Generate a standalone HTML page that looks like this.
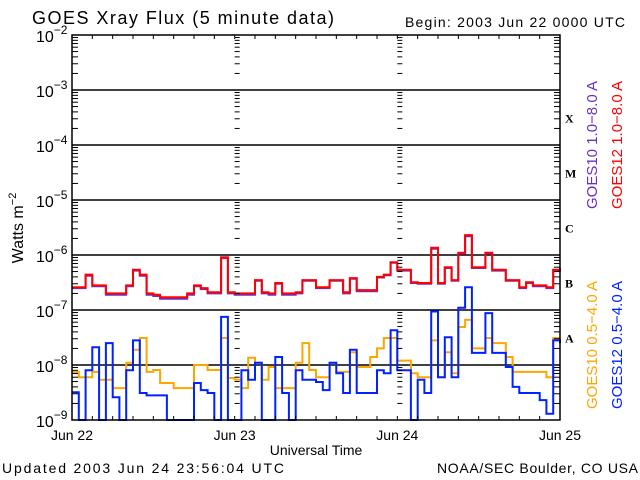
<!DOCTYPE html>
<html><head><meta charset="utf-8">
<style>
html,body{margin:0;padding:0;background:#fff;}
svg{display:block;font-family:"Liberation Sans",sans-serif;}
</style></head>
<body>
<svg id="chart" width="640" height="480" viewBox="0 0 640 480" xmlns="http://www.w3.org/2000/svg">
  <rect x="0" y="0" width="640" height="480" fill="#fff"/>
  <text x="32" y="24" font-size="18" fill="#000" textLength="302" lengthAdjust="spacing">GOES Xray Flux (5 minute data)</text>
  <text x="405" y="27" font-size="14" fill="#000" textLength="220" lengthAdjust="spacing">Begin:  2003 Jun 22 0000 UTC</text>
  <text transform="translate(23,228) rotate(-90)" text-anchor="middle" font-size="16" fill="#000">Watts m<tspan dy="-7" font-size="11">−2</tspan></text>
  <text x="316" y="455" text-anchor="middle" font-size="14" fill="#000">Universal Time</text>
  <text x="2" y="473" font-size="14" fill="#000" textLength="282" lengthAdjust="spacing">Updated 2003 Jun 24 23:56:04 UTC</text>
  <text x="437" y="473" font-size="14" fill="#000" textLength="201" lengthAdjust="spacing">NOAA/SEC Boulder, CO USA</text>
  <g id="grid"></g>
  <g id="series"></g>
  <g id="axes"></g>
  <g id="labels"></g>
  <text transform="translate(597,145) rotate(-90)" text-anchor="middle" font-size="15" fill="#6a2fc8">GOES10 1.0−8.0 A</text>
  <text transform="translate(622,145) rotate(-90)" text-anchor="middle" font-size="15" fill="#ff0000">GOES12 1.0−8.0 A</text>
  <text transform="translate(597,345) rotate(-90)" text-anchor="middle" font-size="15" fill="#ffa500">GOES10 0.5−4.0 A</text>
  <text transform="translate(622,345) rotate(-90)" text-anchor="middle" font-size="15" fill="#0022ff">GOES12 0.5−4.0 A</text>
</svg>
<script>
// hourly samples, 22 Jun 00 UT to 25 Jun 00 UT
const hours = Array.from({length:73},(_,i)=>i);
const goes12Long = [2.6,2.6,4.4,2.8,2.8,2.0,2.0,2.0,2.8,5.4,4.4,2.0,1.9,1.7,1.7,1.7,1.7,2.0,2.8,2.5,2.1,2.1,9.1,2.1,
  2.0,2.0,2.0,3.5,2.1,2.0,3.1,2.0,2.0,2.1,3.5,3.5,2.6,2.6,3.5,3.5,2.1,3.8,2.3,2.3,2.3,4.0,4.4,7.4,
  5.4,5.4,3.2,3.1,3.1,13.5,3.1,6.0,3.5,11,23,6.0,6.0,11,5.4,5.4,3.5,3.5,2.6,3.2,2.8,2.8,2.6,5.4,5.8]; // x1e-7
const goes10Long = [2.5,2.5,4.2,2.7,2.7,1.9,1.9,1.9,2.7,5.2,4.2,1.9,1.8,1.6,1.6,1.6,1.6,1.9,2.7,2.4,2.0,2.0,8.8,2.0,
  1.9,1.9,1.9,3.4,2.0,1.9,3.0,1.9,1.9,2.0,3.4,3.4,2.5,2.5,3.4,3.4,2.0,3.7,2.2,2.2,2.2,3.9,4.3,7.2,
  5.2,5.2,3.1,3.0,3.0,13,3.0,5.8,3.4,10.6,22,5.8,5.8,10.6,5.2,5.2,3.4,3.4,2.5,3.1,2.7,2.7,2.5,5.2,5.6]; // x1e-7
const goes10Short = [7.5,6.0,6.0,7.5,5.4,5.4,3.8,3.8,11,19,31,7.5,8.1,4.7,4.7,3.8,3.8,3.8,10,10,8.1,8.1,31,5.8,
  5.4,3.8,13.5,11,5.4,9.2,3.8,3.8,3.8,11,25,8.1,6.0,6.0,11,7.5,7.5,17,9.2,9.2,14,20,31,31,
  12,12,7.1,6.0,6.0,28,6.0,17,7.1,49,66,20,20,31,25,25,14,7.5,7.5,7.5,7.5,7.5,6.0,31,31]; // x1e-9
const goes12Short = [3.2,1,8,21,1,25,2.6,1,8,28,3.1,2.8,2.8,2.8,1,1,1,1,4.7,3.5,3.1,1,75,1,
  1,8,5.4,11,1,1,14,3.1,1,8,5.4,5.4,4.9,3.5,11,7.1,3.1,19,3.1,3.1,3.1,8,7.1,43,
  8,8,1,5.4,3.1,94,6,32,6,110,260,16.6,16.6,88,16.6,16.6,9.2,4,3.1,3.1,3.1,2.3,1.3,28,25]; // x1e-9
const decadeExps = [-2,-3,-4,-5,-6,-7,-8,-9];
const dayLabels = ["Jun 22","Jun 23","Jun 24","Jun 25"];
const classLabels = ["X","M","C","B","A"];

const NS="http://www.w3.org/2000/svg";
const X0=72,X1=560,Y0=35,Y1=420;
const xs=h=>X0+(h/72)*(X1-X0);
const ys=v=>{let l=Math.log10(v); if(l<-9)l=-9; return Y0+(-2-l)*(Y1-Y0)/7;};
function mk(tag,attrs,parent){const e=document.createElementNS(NS,tag);for(const k in attrs)e.setAttribute(k,attrs[k]);parent.appendChild(e);return e;}
const grid=document.getElementById('grid'),axes=document.getElementById('axes'),labels=document.getElementById('labels'),series=document.getElementById('series');

decadeExps.forEach(ex=>{
  const y=ys(Math.pow(10,ex));
  if(ex!==-2&&ex!==-9){const g=mk('line',{x1:X0,x2:X1,y1:y,y2:y,stroke:'#000','stroke-width':1.5},grid);
  
  }
  const t=mk('text',{x:36,y:y+7,'font-size':16,fill:'#000'},labels);
  
  
  t.innerHTML='10<tspan dy="-8" font-size="12">−'+(-ex)+'</tspan>';
});
// minor ticks
for(let ex=-9;ex<-2;ex++){
  for(let m=2;m<=9;m++){
    const y=ys(m*Math.pow(10,ex));
    [[X0,X0+6],[X1-6,X1],[xs(24),xs(24)+5],[xs(48),xs(48)+5]].forEach(p=>{
      const l=mk('line',{x1:p[0],x2:p[1],y1:y,y2:y,stroke:'#000','stroke-width':1},axes);
      
      
    });
  }
}
for(let h=3;h<72;h+=3){
  const x=xs(h);
  const a=mk('line',{x1:x,x2:x,y1:Y0,y2:Y0+4,stroke:'#000'},axes);
  
  
  const b=mk('line',{x1:x,x2:x,y1:Y1-4,y2:Y1,stroke:'#000'},axes);
  
  
}
const frame=mk('rect',{x:X0,y:Y0,width:X1-X0,height:Y1-Y0,fill:'none',stroke:'#000','stroke-width':1.5},axes);


dayLabels.forEach((d,i)=>{
  const t=mk('text',{x:xs(i*24),y:440,'text-anchor':'middle','font-size':14,fill:'#000'},labels);
  
  
  t.textContent=d;
});
classLabels.forEach((c,i)=>{
  const y=(ys(Math.pow(10,-3-i))+ys(Math.pow(10,-4-i)))/2;
  const t=mk('text',{x:565,y:y+5,'font-size':12,'font-weight':'bold','font-family':'"Liberation Serif",serif',fill:'#000'},labels);
  
  
  t.textContent=c;
});
function drawSeries(arr,scale,color,name){
  let pts=[];
  hours.forEach((h,i)=>{
    const y=ys(arr[h]*scale).toFixed(1);
    pts.push(xs(h).toFixed(1)+','+y);
    const xe=i<hours.length-1?xs(hours[i+1]):xs(h);
    pts.push(xe.toFixed(1)+','+y);
  });
  const p=mk('polyline',{points:pts.join(' '),fill:'none',stroke:color,'stroke-width':2,'stroke-linejoin':'miter'},series);
  
  
}
drawSeries(goes10Long,1e-7,'#6a2fc8','goes10-long-line');
drawSeries(goes12Long,1e-7,'#ff0000','goes12-long-line');
drawSeries(goes10Short,1e-9,'#ffa500','goes10-short-line');
drawSeries(goes12Short,1e-9,'#0022ff','goes12-short-line');
</script>
</body></html>
